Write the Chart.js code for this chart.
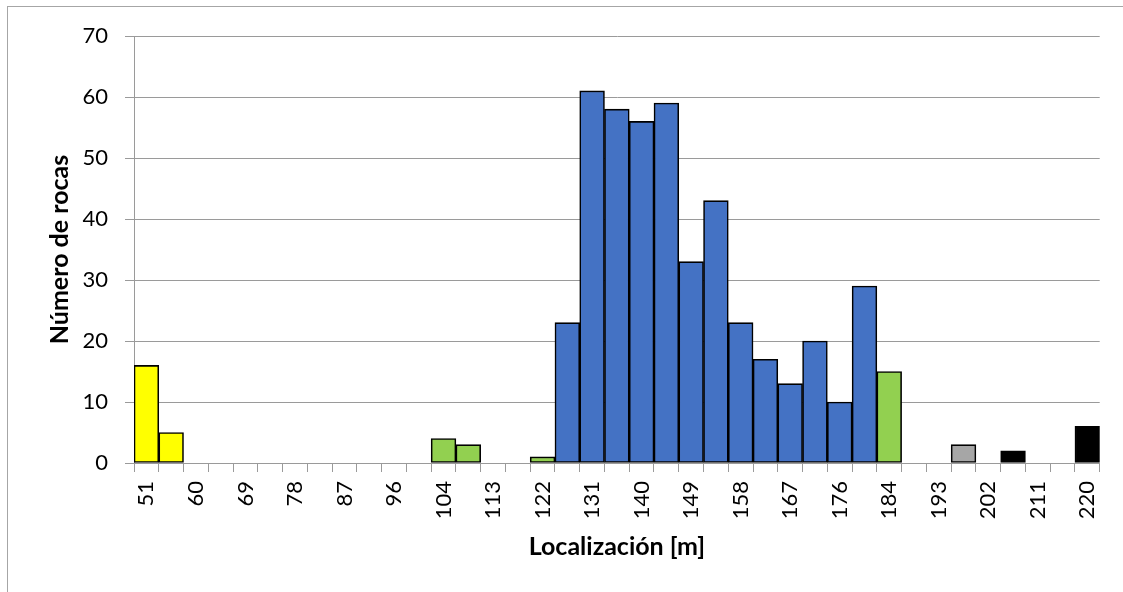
<!DOCTYPE html>
<html>
<head>
<meta charset="utf-8">
<script src="https://cdn.jsdelivr.net/npm/chart.js@4/dist/chart.umd.min.js"></script>
<style>
  html, body { margin: 0; padding: 0; background: #fff; }
  #wrap { width: 1123px; height: 592px; position: relative; }
</style>
</head>
<body>
<div id="wrap"><canvas id="c" width="1123" height="592"></canvas></div>
<script>
const categories = [51, 55, 60, 64, 69, 73, 78, 82, 87, 91, 96, 100, 104, 109, 113, 118, 122, 127, 131, 136, 140, 144, 149, 153, 158, 162, 167, 171, 176, 180, 184, 189, 193, 198, 202, 207, 211, 216, 220];
const rockCounts = [16, 5, 0, 0, 0, 0, 0, 0, 0, 0, 0, 0, 4, 3, 0, 0, 1, 23, 61, 58, 56, 59, 33, 43, 23, 17, 13, 20, 10, 29, 15, 0, 0, 3, 0, 2, 0, 0, 6];
const zones = ['yellow','yellow','none','none','none','none','none','none','none','none','none','none','green','green','none','none','green','blue','blue','blue','blue','blue','blue','blue','blue','blue','blue','blue','blue','blue','green','none','none','gray','none','black','none','none','black'];
const yTicks = [0, 10, 20, 30, 40, 50, 60, 70];

const zoneColors = { yellow: '#FFFF00', green: '#92D050', blue: '#4472C4', gray: '#A6A6A6', black: '#000000', none: '#FFFFFF' };
const gridColor = '#9a9a9a';

const frame = {
  id: 'frame',
  beforeDraw(chart) {
    const ctx = chart.ctx;
    ctx.save();
    ctx.fillStyle = '#fff';
    ctx.fillRect(0, 0, chart.width, chart.height);
    ctx.strokeStyle = '#a6a6a6';
    ctx.lineWidth = 1;
    ctx.strokeRect(7.5, 6.5, chart.width + 20, chart.height + 20);
    ctx.restore();
  }
};

new Chart(document.getElementById('c'), {
  type: 'bar',
  data: {
    labels: categories.map(String),
    datasets: [{
      data: rockCounts,
      backgroundColor: zones.map(z => zoneColors[z]),
      borderColor: '#000',
      borderWidth: 1.6,
      borderSkipped: false,
      categoryPercentage: 1.0,
      barPercentage: 1.0
    }]
  },
  options: {
    responsive: false,
    animation: false,
    devicePixelRatio: 1,
    layout: { padding: { top: 36, right: 21, left: 0, bottom: 0 } },
    plugins: { legend: { display: false }, tooltip: { enabled: false } },
    scales: {
      x: {
        offset: true,
        grid: { offset: true, drawOnChartArea: false, drawTicks: true, tickLength: 9, color: gridColor, lineWidth: 1 },
        border: { display: true, color: gridColor },
        ticks: {
          autoSkip: false, minRotation: 90, maxRotation: 90, padding: 9,
          color: '#000', font: { family: 'Lato', size: 22 },
          callback: (v, i) => (i % 2 === 0 ? categories[i] : '')
        },
        title: { display: true, text: 'Localización [m]', color: '#000', font: { family: 'Lato', size: 25, weight: 'bold' }, padding: { top: 0, bottom: 30 } },
        afterFit(scale) { scale.height = 129; }
      },
      y: {
        min: 0, max: 70,
        afterBuildTicks(scale) { scale.ticks = yTicks.map(v => ({ value: v })); },
        grid: { color: gridColor, lineWidth: 1, tickLength: 9, drawTicks: true },
        border: { display: true, color: gridColor },
        ticks: { color: '#000', padding: 17, font: { family: 'Lato', size: 22 } },
        title: { display: true, text: 'Número de rocas', color: '#000', font: { family: 'Lato', size: 25, weight: 'bold' }, padding: { top: 45, bottom: 0 } },
        afterFit(scale) { scale.width = 134; }
      }
    }
  },
  plugins: [frame]
});
</script>
</body>
</html>
